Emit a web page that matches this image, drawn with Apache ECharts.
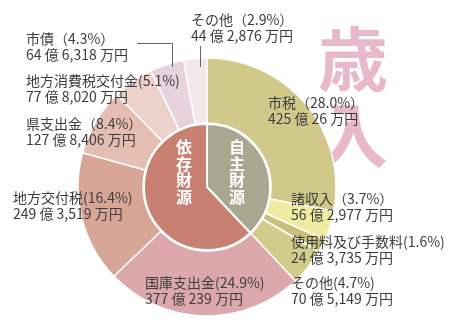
<!DOCTYPE html>
<html><head><meta charset="utf-8">
<script src="https://cdn.jsdelivr.net/npm/echarts@6/dist/echarts.min.js"></script>
<style>html,body{margin:0;padding:0;background:#fff}#c{width:457px;height:330px}</style>
</head><body><div id="c"></div>
<script>
// 歳入 items (clockwise from 12 o'clock), amounts in 万円
const itemNames = ['市税','諸収入','使用料及び手数料','その他','国庫支出金','地方交付税','県支出金','地方消費税交付金','市債','その他'];
const itemPercents = [28.0, 3.7, 1.6, 4.7, 24.9, 16.4, 8.4, 5.1, 4.3, 2.9];
const itemAmounts = [4250026, 562977, 243735, 705149, 3770239, 2493519, 1278406, 778020, 646318, 442876];
const fullWidthParen = [true, true, false, false, false, false, true, false, true, true];
const groupNames = ['自主財源','依存財源'];
const groupSizes = [4, 6];

const itemColors = ['#d0c989','#f0eba2','#c7c079','#d2cc8c','#dca8ac','#d8a696','#e4beb2','#ecd2ca','#e6d3dc','#f3e8e8'];
const groupColors = ['#a8a891','#c88072'];
const labelPos = [[268,95],[291,191],[291,234],[291,275],[145,275],[13,190],[26,116],[26,73],[26,31],[191,12]];
const groupLabelPos = [[237,172],[184,172]];

function fmtAmount(v){
  const oku = Math.floor(v/10000), man = v % 10000;
  return oku + ' 億 ' + man.toLocaleString('en-US') + ' 万円';
}
const outerData = itemNames.map((n,i)=>({
  name: n, value: itemAmounts[i],
  itemStyle:{color:itemColors[i]},
  label:{formatter: n + (fullWidthParen[i] ? '（' + itemPercents[i].toFixed(1) + '%）' : '(' + itemPercents[i].toFixed(1) + '%)') + '\n' + fmtAmount(itemAmounts[i])}
}));
let idx = 0;
const innerData = groupNames.map((g,k)=>{
  let s = 0;
  for (let j=0;j<groupSizes[k];j++) s += itemAmounts[idx++];
  return {name:g, value:s, itemStyle:{color:groupColors[k]}, label:{formatter: g.split('').join('\n')}};
});

const font = '"Noto Sans CJK JP", "Noto Sans", sans-serif';
const chart = echarts.init(document.getElementById('c'), null, {renderer:'canvas'});
chart.setOption({
  animation:false,
  backgroundColor:'#ffffff',
  graphic:[
    {type:'text', z:-10, left:318, top:21, style:{text:'歳\n入', font:'bold 70px ' + font, lineHeight:76, fill:'#e8b9cb', align:'left'}},
    {type:'polyline', z:100, shape:{points:[[137,43.5],[172.5,43.5],[172.5,67]]}, style:{stroke:'#666', lineWidth:1, fill:null}},
    {type:'polyline', z:100, shape:{points:[[200.5,46],[200.5,67]]}, style:{stroke:'#666', lineWidth:1, fill:null}}
  ],
  series:[
    {
      type:'pie', center:[207,187], radius:[64,129], startAngle:90, clockwise:true,
      avoidLabelOverlap:false, silent:true, z:2,
      itemStyle:{borderColor:'#fff', borderWidth:1.5},
      label:{show:true, position:'inside', color:'#3d3d3d', fontSize:14, lineHeight:16, fontFamily:font},
      labelLine:{show:false},
      labelLayout:function(p){ const q = labelPos[p.dataIndex]; return {x:q[0], y:q[1], align:'left', verticalAlign:'top'}; },
      data: outerData
    },
    {
      type:'pie', center:[207,187], radius:[0,63], startAngle:90, clockwise:true,
      avoidLabelOverlap:false, silent:true, z:3,
      itemStyle:{borderColor:'#fff', borderWidth:2},
      label:{show:true, position:'inside', color:'#fff', fontSize:16, fontWeight:'bold', lineHeight:16.5, fontFamily:font},
      labelLine:{show:false},
      labelLayout:function(p){ const q = groupLabelPos[p.dataIndex]; return {x:q[0], y:q[1], align:'center', verticalAlign:'middle'}; },
      data: innerData
    }
  ]
});
</script></body></html>
